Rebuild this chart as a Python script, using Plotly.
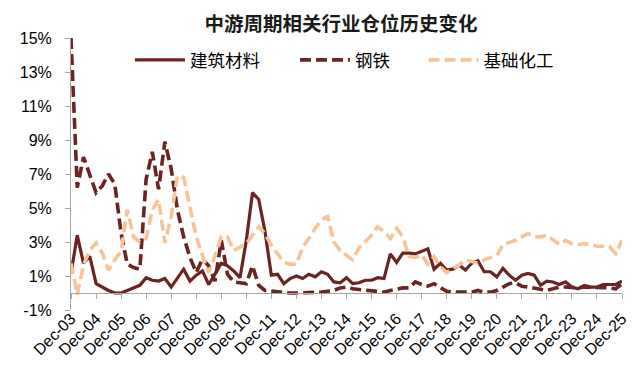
import pandas as pd
import plotly.graph_objects as go

# Quarterly positions (%), 2003Q4 .. 2025Q4
dates = pd.date_range("2003-12-31", periods=89, freq="QE")

building_materials = [
    1.15, 3.4, 1.75, 2.15, 0.55, 0.35, 0.15, 0.0, 0.0, 0.15,
    0.3, 0.45, 0.9, 0.75, 0.7, 0.85, 0.35, 0.85, 1.4, 0.7,
    1.05, 1.3, 0.5, 1.1, 1.75, 1.6, 1.3, 0.9, 3.1, 5.9,
    5.5, 3.6, 1.05, 1.1, 0.55, 0.85, 1.0, 0.85, 1.1, 0.95,
    1.25, 1.1, 0.65, 0.6, 0.9, 0.55, 0.6, 0.75, 0.75, 0.9,
    0.85, 2.3, 1.8, 2.35, 2.35, 2.3, 2.45, 2.6, 1.4, 1.75,
    1.35, 1.4, 1.65, 1.35, 1.75, 1.9, 1.25, 1.25, 0.95, 1.45,
    1.05, 0.75, 1.05, 1.15, 1.05, 0.45, 0.7, 0.65, 0.5, 0.65,
    0.35, 0.25, 0.45, 0.35, 0.35, 0.5, 0.5, 0.5, 0.7,
]

steel = [
    15.0, 6.2, 8.0, 6.9, 5.9, 6.3, 7.0, 6.4, 3.5, 1.7,
    1.5, 1.4, 6.7, 8.3, 6.1, 8.9, 7.3, 4.9, 3.3, 2.1,
    1.2, 2.0, 1.6, 0.7, 3.1, 1.1, 0.65, 0.6, 0.55, 1.6,
    0.45, 0.15, 0.1, 0.05, 0.05, 0.0, 0.0, 0.0, 0.05, 0.05,
    0.05, 0.1, 0.15, 0.3, 0.35, 0.25, 0.2, 0.2, 0.15, 0.1,
    0.05, 0.15, 0.25, 0.3, 0.3, 0.65, 0.5, 0.4, 0.55, 0.3,
    0.1, 0.05, 0.05, 0.05, 0.05, 0.15, 0.05, 0.05, 0.15, 0.35,
    0.55, 0.6, 0.4, 0.35, 0.3, 0.2, 0.15, 0.25, 0.35, 0.35,
    0.3, 0.3, 0.35, 0.35, 0.3, 0.3, 0.3, 0.25, 0.55,
]

basic_chemicals = [
    1.75, -0.1, 1.65, 2.5, 2.95, 2.35, 1.35, 1.95, 2.45, 4.9,
    3.3, 3.0, 3.2, 4.9, 5.5, 2.95, 4.5, 6.9, 6.8, 5.1,
    3.3, 2.2, 1.2, 2.2, 3.3, 3.3, 2.5, 2.7, 2.9, 3.4,
    3.9, 3.5, 2.8, 2.3, 1.8, 1.7, 1.7, 2.7, 3.2, 3.8,
    4.3, 4.5, 3.0, 2.5, 2.25, 1.95, 2.65, 3.0, 3.4, 3.9,
    3.6, 3.2, 3.8, 3.3, 2.15, 2.1, 2.25, 1.7, 2.15, 1.55,
    1.2, 1.45, 1.65, 1.95, 1.85, 1.75, 1.95, 2.1, 2.2, 2.85,
    2.95, 3.1, 3.3, 3.5, 3.3, 3.3, 3.4, 3.1, 2.85, 3.1,
    2.9, 2.85, 2.9, 2.85, 2.75, 2.75, 2.75, 2.3, 3.1,
]

series_names = ["建筑材料", "钢铁", "基础化工"]

tick_years = list(range(2003, 2026))
tick_labels = ["Dec-%02d" % (y % 100) for y in tick_years]
tick_dates = ["%d-12-31" % y for y in tick_years]

y_ticks = [-1, 1, 3, 5, 7, 9, 11, 13, 15]
y_tick_labels = ["%d%%" % v for v in y_ticks]

dark = "#6B2323"
peach = "#F9C398"
FONT = "Liberation Sans, Arial, Noto Sans CJK SC, sans-serif"
CJK = "Noto Sans CJK SC, sans-serif"

# page body has an 8px margin; margins compensate so the plot sits at x 61..622, y 38..310
ML, MR, MT, MB = 53, 30, 30, 64
PLOT_W = 644 - ML - MR


def px_to_paper(px):
    return (px - 8 - ML) / PLOT_W


fig = go.Figure()
fig.add_trace(go.Scatter(x=dates, y=building_materials, name=series_names[0], mode="lines",
                         line=dict(color=dark, width=3.2), legend="legend"))
fig.add_trace(go.Scatter(x=dates, y=steel, name=series_names[1], mode="lines",
                         line=dict(color=dark, width=3.6, dash="11px,5px"), legend="legend2"))
fig.add_trace(go.Scatter(x=dates, y=basic_chemicals, name=series_names[2], mode="lines",
                         line=dict(color=peach, width=3.6, dash="11px,5px"), legend="legend3"))

leg_common = dict(orientation="h", y=0.919, yanchor="middle", xanchor="left",
                  font=dict(family=CJK, size=17.5, color="black"),
                  bgcolor="rgba(0,0,0,0)", itemwidth=50)

fig.update_layout(
    width=644, height=366,
    margin=dict(l=ML, r=MR, t=MT, b=MB),
    paper_bgcolor="white", plot_bgcolor="white",
    font=dict(family=FONT, size=16, color="black"),
    showlegend=True,
    hovermode=False,
    title=dict(text="<b>中游周期相关行业仓位历史变化</b>", x=0.517, xanchor="center",
               y=1 - 16 / 366, yanchor="middle", yref="container",
               font=dict(family=CJK, size=19.5, color="#1a1a1a")),
    legend=dict(x=px_to_paper(121), **leg_common),
    legend2=dict(x=px_to_paper(289), **leg_common),
    legend3=dict(x=px_to_paper(420), **leg_common),
)

fig.update_xaxes(
    type="date",
    range=[tick_dates[0], tick_dates[-1]],
    anchor="free", position=1 / 16,
    showline=True, linecolor="#A6A6A6", linewidth=1,
    showgrid=False, zeroline=False,
    ticks="outside", ticklen=5, tickcolor="#A6A6A6",
    tickvals=tick_dates, ticktext=tick_labels,
    tickangle=-45, tickfont=dict(size=16),
    ticklabelstandoff=4,
)
fig.update_yaxes(
    range=[-1, 15],
    showline=True, linecolor="#A6A6A6", linewidth=1,
    showgrid=False, zeroline=False,
    ticks="outside", ticklen=5, tickcolor="#A6A6A6",
    tickvals=y_ticks, ticktext=y_tick_labels,
    tickfont=dict(size=16), ticklabelstandoff=10,
)

fig.write_html("out.html")
